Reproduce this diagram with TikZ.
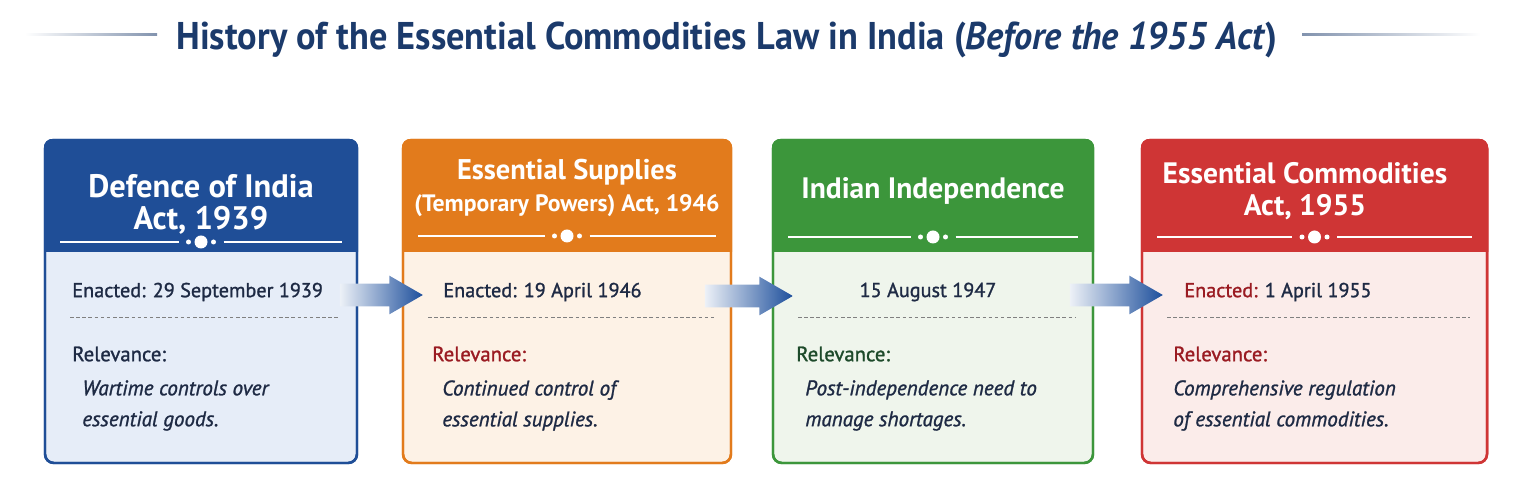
\documentclass[tikz,border=0pt]{standalone}
\usepackage{fontspec}
\setmainfont{PT Sans}
\newfontfamily\semib{PT Sans}[FakeBold=1.2]
\usetikzlibrary{shapes.arrows}

\definecolor{titleblue}{HTML}{1B3A6B}
\definecolor{darktext}{HTML}{1E2A44}
\definecolor{hblue}{HTML}{1F4E97}
\definecolor{horange}{HTML}{E27B1C}
\definecolor{hgreen}{HTML}{3C963B}
\definecolor{hred}{HTML}{CF3535}
\definecolor{bblue}{HTML}{E6EDF8}
\definecolor{borange}{HTML}{FDF2E6}
\definecolor{bgreen}{HTML}{EFF5EC}
\definecolor{bred}{HTML}{FBECEA}
\definecolor{relred}{HTML}{9A1B22}
\definecolor{relgreen}{HTML}{1D4A2A}
\definecolor{arrowblue}{HTML}{1D4F9C}

\tikzset{
  card/.style={draw=#1, line width=1.4pt, rounded corners=5pt, minimum height=6.46cm, inner sep=0pt},
  hdr/.style={text=white, font=\fontsize{16.8}{18.2}\selectfont\bfseries, align=center},
  datetxt/.style={text=darktext, font=\semib\fontsize{11.5}{14}\selectfont, anchor=west, inner sep=0pt},
  rel/.style={font=\semib\fontsize{11.8}{14}\selectfont, anchor=west, inner sep=0pt},
  desc/.style={text=darktext, font=\semib\itshape\fontsize{12}{17.6}\selectfont, anchor=west, align=left, inner sep=0pt},
  flow/.style={single arrow, single arrow head extend=0.16cm, single arrow tip angle=60,
    text height=0pt, text depth=0pt, inner xsep=0pt, inner ysep=0.22cm,
    left color=arrowblue!8, middle color=arrowblue!85, right color=arrowblue}
}

\begin{document}
\begin{tikzpicture}
\useasboundingbox (0,0) rectangle (30.72,9.62);

% title
\node[font=\fontsize{22}{26}\selectfont\bfseries, text=titleblue] (title) at (14.54,8.82)
  {\scalebox{0.94}[1]{History of the Essential Commodities Law in India (\textit{Before the 1955 Act})}};
\shade[left color=white, right color=titleblue!55] (0.5,8.9) rectangle (3.14,8.95);
\shade[left color=titleblue!55, right color=white] (26.04,8.9) rectangle (29.6,8.95);

% cards
\foreach \n/\x/\w/\c/\bg/\oy in {b1/4.02/6.24/hblue/bblue/4.78, b2/11.34/6.56/horange/borange/4.9,
  b3/18.66/6.4/hgreen/bgreen/4.88, b4/26.29/6.9/hred/bred/4.88}
{
  \pgfmathsetmacro\xa{\x-\w/2}
  \pgfmathsetmacro\xb{\x+\w/2}
  \node[card=\c, fill=\bg, minimum width=\w cm] (\n) at (\x,3.59) {};
  \begin{scope}
    \clip[rounded corners=5pt] (\n.south west) rectangle (\n.north east);
    \fill[\c] (\n.north west) rectangle (\xb+0.1,4.58);
  \end{scope}
  \node[card=\c, minimum width=\w cm] at (\n) {};
  % ornament under the heading
  \draw[white, line width=0.8pt] (\xa+0.3,\oy) -- (\x-0.45,\oy);
  \draw[white, line width=0.8pt] (\x+0.45,\oy) -- (\xb-0.3,\oy);
  \fill[white] (\x,\oy) circle (0.13);
  \fill[white] (\x-0.25,\oy) circle (0.05);
  \fill[white] (\x+0.25,\oy) circle (0.05);
  % dashed rule in the body
  \draw[gray, dash pattern=on 2pt off 1.5pt, line width=0.4pt] (\xa+0.5,3.28) -- (\xb-0.35,3.28);
}

% headings
\node[hdr, font=\fontsize{18.5}{18.2}\selectfont\bfseries] (h1) at (4.02,5.54) {Defence of India\\Act, 1939};
\node[hdr, font=\fontsize{16.2}{18.7}\selectfont\bfseries] (h2) at (11.34,5.86) {Essential Supplies\\{\fontsize{13.5}{16}\selectfont(Temporary Powers) Act, 1946}};
\node[hdr] (h3) at (18.66,5.8) {Indian Independence};
\node[hdr] (h4) at (26.1,5.8) {Essential Commodities\\Act, 1955};

% dates
\node[datetxt] (d1) at (1.44,3.78) {Enacted: 29 September 1939};
\node[datetxt] (d2) at (8.86,3.78) {Enacted: 19 April 1946};
\node[datetxt, anchor=center] (d3) at (18.56,3.78) {15 August 1947};
\node[datetxt] (d4) at (23.68,3.78) {\textcolor{relred}{Enacted:} 1 April 1955};

% relevance
\node[rel, text=darktext] (r1) at (1.44,2.54) {Relevance:};
\node[rel, text=relred] (r2) at (8.64,2.54) {Relevance:};
\node[rel, text=relgreen] (r3) at (15.92,2.54) {Relevance:};
\node[rel, text=relred] (r4) at (23.46,2.54) {Relevance:};

\node[desc] (t1) at (1.64,1.51) {Wartime controls over\\essential goods.};
\node[desc] (t2) at (8.84,1.51) {Continued control of\\essential supplies.};
\node[desc] (t3) at (16.10,1.51) {Post-independence need to\\manage shortages.};
\node[desc] (t4) at (23.46,1.51) {Comprehensive regulation\\of essential commodities.};

% arrows between the cards
\node[flow, minimum height=1.66cm] (a1) at (7.43,3.72) {};
\node[flow, minimum height=1.76cm] (a2) at (14.78,3.70) {};
\node[flow, minimum height=1.86cm] (a3) at (22.13,3.72) {};

\end{tikzpicture}
\end{document}
